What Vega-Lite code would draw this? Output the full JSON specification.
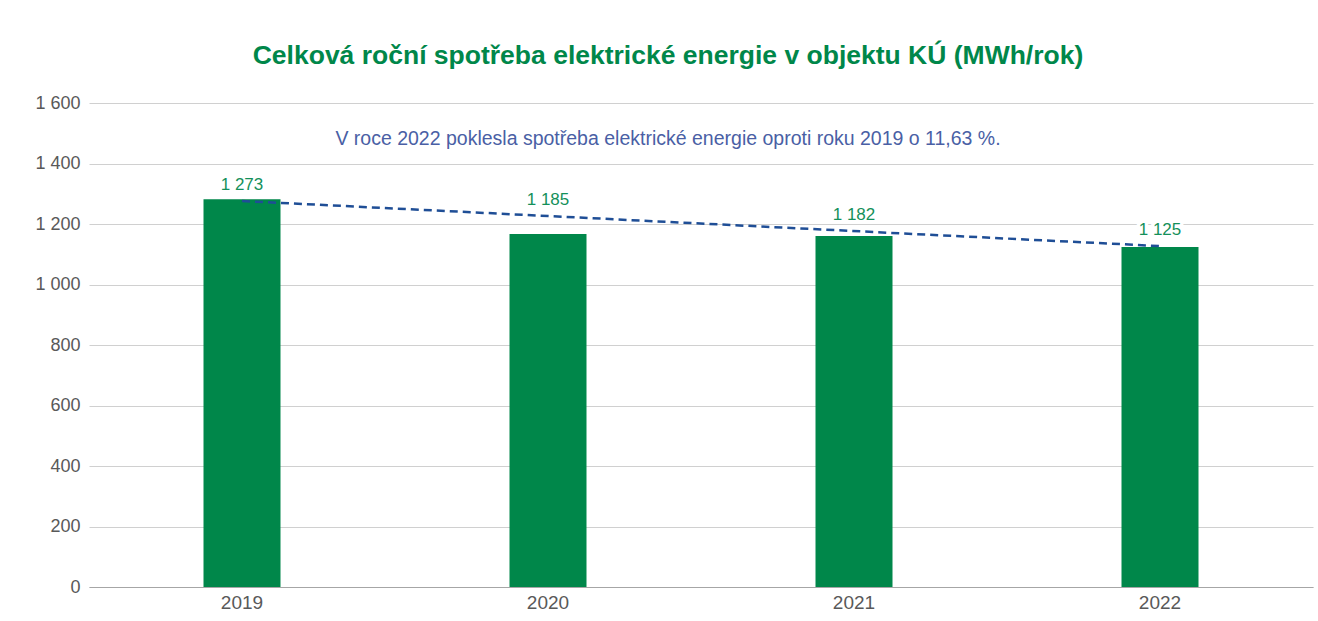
{
  "$schema": "https://vega.github.io/schema/vega-lite/v6.json",
  "width": 1224,
  "height": 484,
  "autosize": {"type": "none"},
  "padding": {"left": 89, "top": 103, "right": 5, "bottom": 34},
  "background": "white",
  "config": {
    "locale": {"number": {"decimal": ",", "thousands": " ", "grouping": [3], "currency": ["", " Kč"]}},
    "font": "Liberation Sans",
    "view": {"stroke": null}
  },
  "title": {
    "text": "Celková roční spotřeba elektrické energie v objektu KÚ (MWh/rok)",
    "font": "Liberation Sans",
    "fontSize": 26.5,
    "fontWeight": "bold",
    "color": "#00874a",
    "anchor": "middle",
    "dx": -33,
    "offset": 25
  },
  "datasets": {
    "bars": [
      {"rok": "2019", "hodnota": 1282, "popisek": "1 273", "trend": 1276},
      {"rok": "2020", "hodnota": 1167, "popisek": "1 185", "trend": 1226},
      {"rok": "2021", "hodnota": 1160, "popisek": "1 182", "trend": 1177},
      {"rok": "2022", "hodnota": 1124, "popisek": "1 125", "trend": 1127}
    ],
    "note": [
      {"text": "V roce 2022 poklesla spotřeba elektrické energie oproti roku 2019 o 11,63 %.", "y": 1480}
    ]
  },
  "layer": [
    {
      "data": {"name": "bars"},
      "mark": {"type": "bar", "color": "#00874a", "width": 77},
      "encoding": {
        "x": {
          "field": "rok", "type": "nominal", "title": null,
          "scale": {"paddingInner": 0.75, "paddingOuter": 0.375},
          "axis": {"labelAngle": 0, "labelFontSize": 19, "labelColor": "#595959", "labelPadding": 6, "ticks": false, "domainColor": "#a6a6a6", "domainWidth": 1.2}
        },
        "y": {
          "field": "hodnota", "type": "quantitative", "title": null,
          "scale": {"domain": [0, 1600]},
          "axis": {"values": [0, 200, 400, 600, 800, 1000, 1200, 1400, 1600], "format": ",d", "labelFontSize": 18, "labelColor": "#595959", "labelPadding": 9, "ticks": false, "domain": false, "gridColor": "#d0d0d0", "gridWidth": 1}
        }
      }
    },
    {
      "data": {"name": "bars"},
      "transform": [{"filter": "datum.rok == '2019' || datum.rok == '2022'"}],
      "mark": {"type": "line", "color": "#1f4e96", "strokeWidth": 2.5, "strokeDash": [8, 5]},
      "encoding": {
        "x": {"field": "rok", "type": "nominal"},
        "y": {"field": "trend", "type": "quantitative"}
      }
    },
    {
      "data": {"name": "bars"},
      "mark": {"type": "text", "fontSize": 17, "color": "white", "stroke": "white", "strokeWidth": 7, "dy": -16, "baseline": "middle"},
      "encoding": {
        "x": {"field": "rok", "type": "nominal"},
        "y": {"field": "trend", "type": "quantitative"},
        "text": {"field": "popisek"}
      }
    },
    {
      "data": {"name": "bars"},
      "mark": {"type": "text", "fontSize": 17, "color": "#14905a", "dy": -16, "baseline": "middle"},
      "encoding": {
        "x": {"field": "rok", "type": "nominal"},
        "y": {"field": "trend", "type": "quantitative"},
        "text": {"field": "popisek"}
      }
    },
    {
      "data": {"name": "note"},
      "mark": {"type": "text", "fontSize": 19.5, "color": "#4a5fa5", "dx": -33, "baseline": "middle"},
      "encoding": {
        "y": {"field": "y", "type": "quantitative"},
        "text": {"field": "text"}
      }
    }
  ]
}
